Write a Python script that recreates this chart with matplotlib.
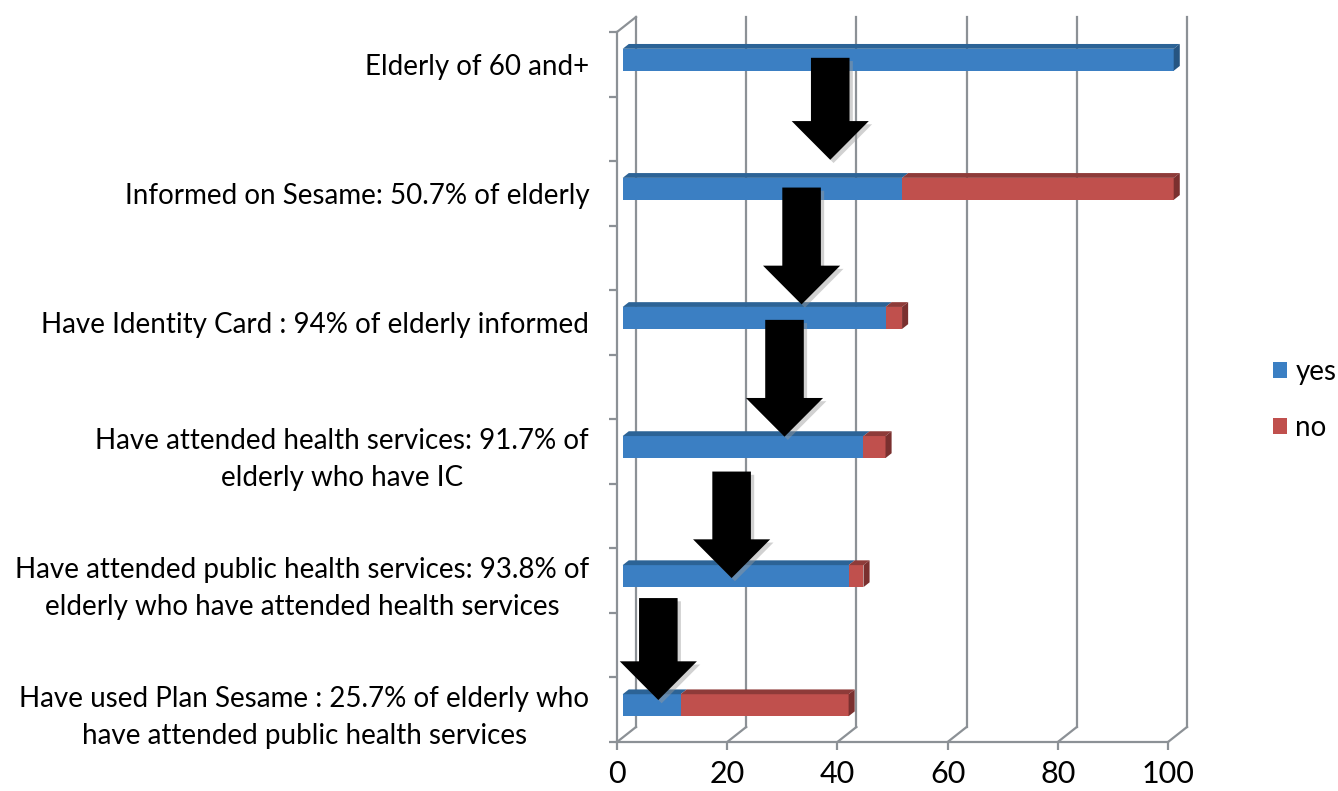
import numpy as np
import matplotlib
matplotlib.use('Agg')
import matplotlib.pyplot as plt
from matplotlib.patches import Polygon, Patch

plt.rcParams['font.family'] = ['Lato', 'DejaVu Sans']

# Dados (do topo para baixo)
labels = ['Elderly of 60 and+',
          'Informed on Sesame: 50.7% of elderly',
          'Have Identity Card : 94% of elderly informed',
          'Have attended health services: 91.7% of\nelderly who have IC',
          'Have attended public health services: 93.8% of\nelderly who have attended health services',
          'Have used Plan Sesame : 25.7% of elderly who\nhave attended public health services']
yes = np.array([100, 50.7, 47.7, 43.7, 41.0, 10.5])
no = np.array([0, 49.3, 3.0, 4.0, 2.7, 30.5])
xticks = [0, 20, 40, 60, 80, 100]

# setas: posição x, topo e ponta (em unidades do eixo)
arrow_x = [38.7, 33.5, 30.4, 20.8, 7.5]
arrow_top = [10.1, 8.09, 6.04, 3.69, 1.73]
arrow_tip = [8.52, 6.28, 4.23, 2.04, 0.15]

blue, blue_top, blue_side = '#3B7FC3', '#2C6396', '#265582'
red, red_top, red_side = '#C0504D', '#8E3B39', '#7A302F'
grid_c = '#8C9196'

W, H = 1338, 791
fig = plt.figure(figsize=(W / 100, H / 100), dpi=100)
ax = fig.add_axes([617 / W, 49 / H, 551 / W, 710 / H])
ax.set_xlim(0, 100)
ax.set_ylim(-0.5, 10.5)

px_x = 551 / 100
px_y = 710 / 11
DX = 19 / px_x
DY = 15 / px_y

slots = np.arange(len(labels))[::-1] * 2.0

# parede do fundo
for v in xticks:
    ax.plot([v + DX, v + DX], [-0.5 + DY, 10.5 + DY], color=grid_c, lw=1.6, zorder=1, clip_on=False)
    ax.plot([v, v + DX], [-0.5, -0.5 + DY], color=grid_c, lw=1.6, zorder=1, clip_on=False)
ax.plot([0, DX], [10.5, 10.5 + DY], color=grid_c, lw=1.6, zorder=1, clip_on=False)

# barras 3D
f1, f2 = 0.3, 0.62
h = 22 / px_y
ox, oy = f1 * DX, f1 * DY
ddx, ddy = (f2 - f1) * DX, (f2 - f1) * DY

b1 = ax.barh(slots + oy, yes, left=ox, height=h, color=blue, zorder=3)
b2 = ax.barh(slots + oy, no, left=ox + yes, height=h, color=red, zorder=3)
for r in list(b1) + list(b2):
    r.set_clip_on(False)

for yc, a, b in zip(slots, yes, no):
    y0 = yc + oy - h / 2
    y1 = yc + oy + h / 2
    for left, right, c in [(0, a, blue_top), (a, a + b, red_top)]:
        if right - left <= 0:
            continue
        ax.add_patch(Polygon([(left + ox, y1), (right + ox, y1), (right + ox + ddx, y1 + ddy),
                              (left + ox + ddx, y1 + ddy)], closed=True, fc=c, ec='none',
                             zorder=3, clip_on=False))
    end = a + b
    side = red_side if b > 0 else blue_side
    ax.add_patch(Polygon([(end + ox, y0), (end + ox + ddx, y0 + ddy), (end + ox + ddx, y1 + ddy),
                          (end + ox, y1)], closed=True, fc=side, ec='none', zorder=3, clip_on=False))

# setas
for x, t, p in zip(arrow_x, arrow_top, arrow_tip):
    ax.arrow(x + 0.6, t - 0.05, 0, p - t, width=7, head_width=14, head_length=0.6,
             length_includes_head=True, fc='#9a9a9a', ec='none', alpha=0.45, zorder=5, clip_on=False)
    ax.arrow(x, t, 0, p - t, width=7, head_width=14, head_length=0.6,
             length_includes_head=True, fc='black', ec='none', zorder=6, clip_on=False)

# eixos
for s in ['top', 'right']:
    ax.spines[s].set_visible(False)
for s in ['left', 'bottom']:
    ax.spines[s].set_color(grid_c)
    ax.spines[s].set_linewidth(1.6)
ax.set_xticks(xticks)
ax.set_xticklabels([str(v) for v in xticks], fontsize=22)
ax.set_yticks(slots)
ax.set_yticklabels(labels, fontsize=20, multialignment='center', linespacing=1.5)
ax.set_yticks(np.arange(-0.5, 11, 1.0), minor=True)
ax.tick_params(axis='y', which='major', length=0, pad=20)
ax.tick_params(axis='y', which='minor', length=6, width=1.6, color=grid_c)
ax.tick_params(axis='x', length=6, width=1.6, color=grid_c, pad=7)
ax.set_facecolor('none')

fig.legend(handles=[Patch(fc=blue), Patch(fc=red)], labels=['yes', 'no'],
           loc='center left', bbox_to_anchor=(1273 / W, 1 - 400 / H), frameon=False,
           borderpad=0, borderaxespad=0, fontsize=20, handlelength=0.5, handleheight=0.5,
           labelspacing=1.1, handletextpad=0.3)

fig.savefig('out.png', dpi=100)
